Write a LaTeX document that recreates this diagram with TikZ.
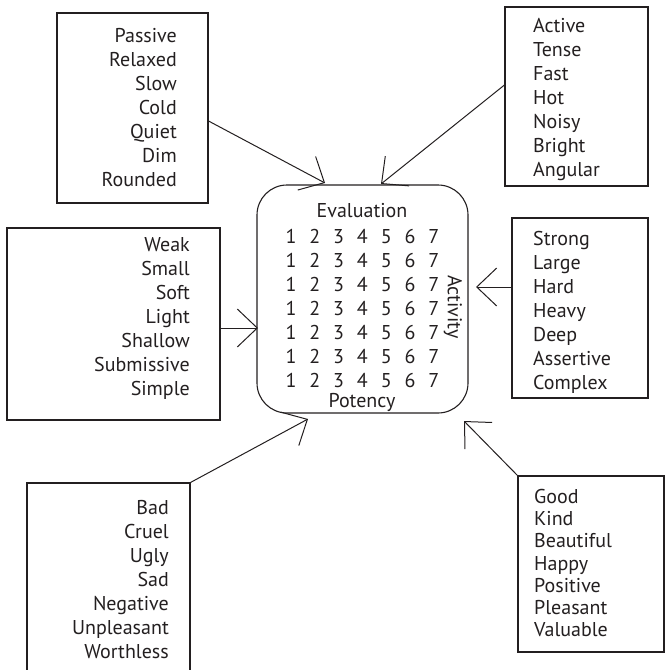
\documentclass[tikz,border=0pt]{standalone}
\usepackage{fontspec}
\setmainfont{PT Sans}
\usetikzlibrary{arrows.meta}
\definecolor{ink}{RGB}{35,31,32}
\begin{document}
\begin{tikzpicture}[x=1pt,y=-1pt,
  every node/.style={text=ink,font=\fontsize{20}{24}\selectfont},
  wbox/.style={draw=ink,line width=1.1pt,rectangle,inner sep=0pt},
  wlistr/.style={anchor=east,align=right,inner sep=0pt},
  wlistl/.style={anchor=west,align=left,inner sep=0pt},
  digit/.style={anchor=base,inner sep=0pt},
  link/.style={draw=ink,line width=1pt,-{Straight Barb[length=20pt,width=38pt,line width=1pt]}}]
\useasboundingbox (0,0) rectangle (665,670);

% central scale box
\node[wbox,rounded corners=30pt,minimum width=211pt,minimum height=228pt] (scale) at (362.5,299) {};
\node[anchor=base,inner sep=0pt] (eval) at (362,217) {Evaluation};
\node[anchor=base,inner sep=0pt] (pot) at (362,407) {Potency};
\node[rotate=-90,inner sep=0pt] (act) at (453,307) {Activity};
\foreach \r in {0,...,6}
  \foreach \c in {1,...,7}
    \node[digit] (d\r\c) at (267.2+23.8*\c,243+24*\r) {\c};

% adjective boxes
\node[wbox,minimum width=151pt,minimum height=190pt] (passive) at (132.5,108) {};
\node[wlistr] (passivetxt) at (177,108) {Passive\\Relaxed\\Slow\\Cold\\Quiet\\Dim\\Rounded};

\node[wbox,minimum width=143pt,minimum height=179pt] (active) at (576.5,96.5) {};
\node[wlistl] (activetxt) at (533,100) {Active\\Tense\\Fast\\Hot\\Noisy\\Bright\\Angular};

\node[wbox,minimum width=213pt,minimum height=192pt] (weak) at (113.5,324) {};
\node[wlistr] (weaktxt) at (190,318) {Weak\\Small\\Soft\\Light\\Shallow\\Submissive\\Simple};

\node[wbox,minimum width=136pt,minimum height=180pt] (strong) at (580,308) {};
\node[wlistl] (strongtxt) at (533,312) {Strong\\Large\\Hard\\Heavy\\Deep\\Assertive\\Complex};

\node[wbox,minimum width=163pt,minimum height=200pt] (bad) at (108.5,583) {};
\node[wlistr] (badtxt) at (169,580) {Bad\\Cruel\\Ugly\\Sad\\Negative\\Unpleasant\\Worthless};

\node[wbox,minimum width=146pt,minimum height=176pt] (good) at (591,564) {};
\node[wlistl,font=\fontsize{20}{22.3}\selectfont] (goodtxt) at (534,563) {Good\\Kind\\Beautiful\\Happy\\Positive\\Pleasant\\Valuable};

% arrow tips around the scale box
\coordinate (tpassive) at (325,183);
\coordinate (tactive) at (381,184);
\coordinate (tweak) at (258,328);
\coordinate (tstrong) at (476,287);
\coordinate (tbad) at (308,419);
\coordinate (tgood) at (464,421);

\draw[link] ([yshift=-13pt]passive.east) -- (tpassive);
\draw[link] ([yshift=11.5pt]active.west) -- (tactive);
\draw[link] ([yshift=-4pt]weak.east) -- (tweak);
\draw[link] ([yshift=21pt]strong.west) -- (tstrong);
\draw[link] (bad.north east) -- (tbad);
\draw[link] (good.north west) -- (tgood);
\end{tikzpicture}
\end{document}
